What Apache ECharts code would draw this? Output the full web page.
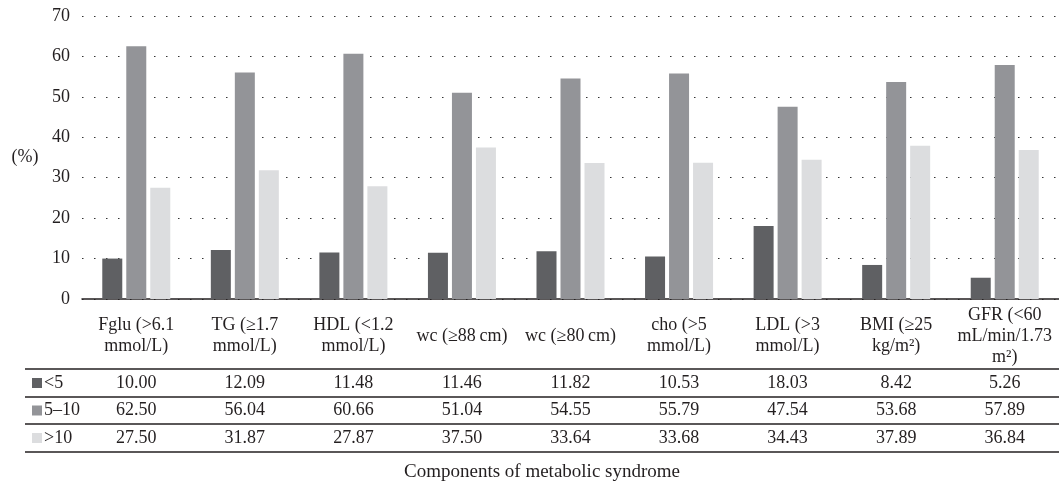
<!DOCTYPE html>
<html>
<head>
<meta charset="utf-8">
<script src="https://cdn.jsdelivr.net/npm/echarts@6/dist/echarts.min.js"></script>
<style>
  html, body { margin: 0; padding: 0; background: #fff; }
  #chart { width: 1059px; height: 481px; }
</style>
</head>
<body>
<div id="chart"></div>
<script>
// Components of metabolic syndrome, share (%) per group
const categories = [
  'Fglu (>6.1\nmmol/L)',
  'TG (≥1.7\nmmol/L)',
  'HDL (<1.2\nmmol/L)',
  'wc (≥88\u2009cm)',
  'wc (≥80\u2009cm)',
  'cho (>5\nmmol/L)',
  'LDL (>3\nmmol/L)',
  'BMI (≥25\nkg/m²)',
  'GFR (<60\nmL/min/1.73\nm²)'
];
const seriesNames = ['<5', '5–10', '>10'];
const under5   = [10.00, 12.09, 11.48, 11.46, 11.82, 10.53, 18.03, 8.42, 5.26];
const from5to10 = [62.50, 56.04, 60.66, 51.04, 54.55, 55.79, 47.54, 53.68, 57.89];
const over10   = [27.50, 31.87, 27.87, 37.50, 33.64, 33.68, 34.43, 37.89, 36.84];
const yMin = 0, yMax = 70, yStep = 10;
const yAxisTitle = '(%)';
const xAxisTitle = 'Components of metabolic syndrome';

const seriesValues = [under5, from5to10, over10];
const colors = ['#5f6063', '#939498', '#dcdddf'];
const FONT = '"Liberation Serif", "DejaVu Serif", serif';
const TEXT = '#231f20';
const FS = 18;

const chart = echarts.init(document.getElementById('chart'), null, { renderer: 'canvas' });

const option = {
  animation: false,
  backgroundColor: '#fff',
  textStyle: { fontFamily: FONT, color: TEXT },
  grid: { left: 82, right: 0, top: 16, bottom: 182, containLabel: false },
  xAxis: {
    type: 'category',
    data: categories,
    axisLine: { show: true, lineStyle: { color: '#231f20', width: 1.5 } },
    axisTick: { show: false },
    axisLabel: {
      interval: 0,
      margin: 37,
      verticalAlign: 'middle',
      align: 'center',
      fontFamily: FONT,
      fontSize: FS,
      lineHeight: 21,
      color: TEXT
    }
  },
  yAxis: {
    type: 'value',
    min: yMin,
    max: yMax,
    interval: yStep,
    axisLine: { show: false },
    axisTick: { show: false },
    axisLabel: { margin: 12, fontFamily: FONT, fontSize: FS, color: TEXT },
    splitLine: {
      show: true,
      lineStyle: { color: '#333', width: 1, type: [1.5, 10.5] }
    }
  },
  series: seriesValues.map((vals, i) => ({
    name: seriesNames[i],
    type: 'bar',
    data: vals,
    barWidth: 20,
    barGap: '20%',
    itemStyle: { color: colors[i] }
  }))
};

chart.setOption(option);

// Data table under the axis: one row per group, one cell per category
const tableLeft = 25, tableRight = 1059;
const rowLines = [369, 397, 424, 452];
const graphics = [];
rowLines.forEach(y => {
  graphics.push({
    type: 'line',
    shape: { x1: tableLeft, y1: y, x2: tableRight, y2: y },
    style: { stroke: '#231f20', lineWidth: 1.5 }
  });
});
seriesValues.forEach((vals, r) => {
  const cy = (rowLines[r] + rowLines[r + 1]) / 2;
  graphics.push({
    type: 'rect',
    shape: { x: 32, y: cy - 5, width: 10, height: 10 },
    style: { fill: colors[r] }
  });
  graphics.push({
    type: 'text',
    x: 44, y: cy,
    style: {
      text: seriesNames[r], fontFamily: FONT, fontSize: FS, fill: TEXT,
      textAlign: 'left', textVerticalAlign: 'middle'
    }
  });
  vals.forEach((v, c) => {
    const cx = chart.convertToPixel({ xAxisIndex: 0 }, categories[c]);
    graphics.push({
      type: 'text',
      x: cx, y: cy,
      style: {
        text: v.toFixed(2), fontFamily: FONT, fontSize: FS, fill: TEXT,
        textAlign: 'center', textVerticalAlign: 'middle'
      }
    });
  });
});
graphics.push({
  type: 'text',
  x: 25, y: 157,
  style: {
    text: yAxisTitle, fontFamily: FONT, fontSize: FS, fill: TEXT,
    textAlign: 'center', textVerticalAlign: 'middle'
  }
});
graphics.push({
  type: 'text',
  x: (tableLeft + tableRight) / 2, y: 472,
  style: {
    text: xAxisTitle, fontFamily: FONT, fontSize: 19, fill: TEXT,
    textAlign: 'center', textVerticalAlign: 'middle'
  }
});

chart.setOption({ graphic: graphics });
</script>
</body>
</html>
